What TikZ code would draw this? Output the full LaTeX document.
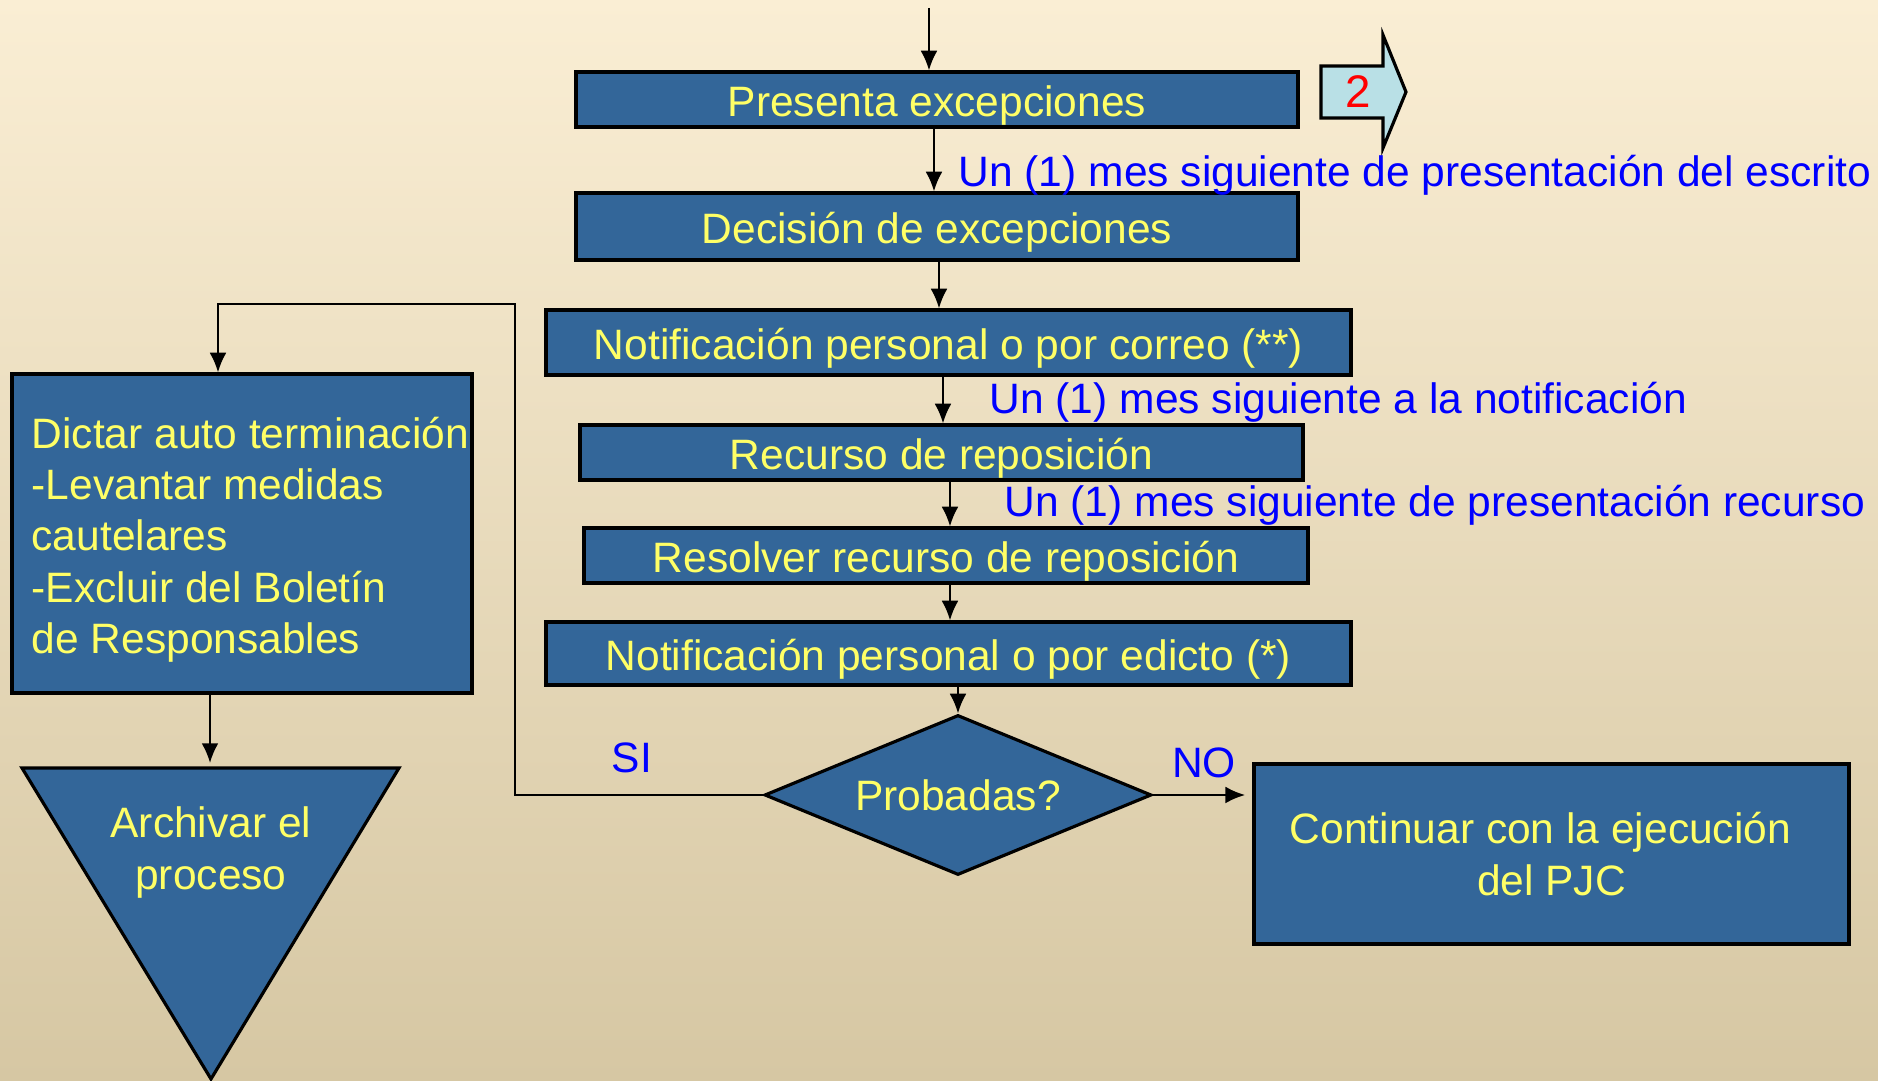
\documentclass[tikz,border=0pt]{standalone}
\usepackage{fontspec}
\setmainfont{Liberation Sans}
\usetikzlibrary{shapes.geometric,arrows.meta}

\definecolor{bgtop}{RGB}{250,238,212}
\definecolor{bgbot}{RGB}{214,199,163}
\definecolor{boxblue}{RGB}{51,102,153}
\definecolor{boxtext}{RGB}{255,255,102}
\definecolor{arrowcyan}{RGB}{185,224,230}

\begin{document}
\begin{tikzpicture}[>={Latex[length=5.6pt,width=4.8pt]},
		every node/.style={font=\fontsize{12.1pt}{14.6pt}\selectfont},
		box/.style={draw=black,line width=0.9pt,fill=boxblue,text=boxtext,inner sep=0pt},
		paso/.style={box,text height=10pt,text depth=0.1pt},
		tiempo/.style={text=blue,inner sep=0pt},
		flow/.style={->,line width=0.6pt}]
				% background
				\useasboundingbox (0,0) rectangle (18.78,-10.81);
				\shade[top color=bgtop,bottom color=bgbot] (0,0) rectangle (18.78,-10.81);

				% draw the main column of steps
				\node[paso,minimum width=7.22cm,minimum height=0.55cm] (pres) at (9.37,-0.995) {Presenta excepciones};
				\node[paso,minimum width=7.22cm,minimum height=0.67cm] (dec) at (9.37,-2.265) {Decisión de excepciones};
				\node[paso,minimum width=8.05cm,minimum height=0.65cm] (notc) at (9.485,-3.425) {Notificación personal o por correo (**)};
				\node[paso,minimum width=7.23cm,minimum height=0.55cm] (rec) at (9.415,-4.525) {Recurso de reposición};
				\node[paso,minimum width=7.24cm,minimum height=0.55cm] (resv) at (9.46,-5.555) {Resolver recurso de reposición};
				\node[paso,minimum width=8.05cm,minimum height=0.63cm] (note) at (9.485,-6.535) {Notificación personal o por edicto (*)};
				\node[box,diamond,aspect=2.42,minimum width=3.87cm,minimum height=1.60cm] (prob) at (9.58,-7.95) {Probadas?};
				\node[box,minimum width=5.95cm,minimum height=1.80cm,align=center] (cont) at (15.515,-8.54)
					{Continuar con la ejecución\hspace*{0.22cm}\\del PJC};

				% the box on the left
				\node[box,minimum width=4.60cm,minimum height=3.19cm] (dictar) at (2.42,-5.335) {};
				\node[text=boxtext,align=left,anchor=west,inner sep=0pt] (dictartxt) at (0.31,-5.395)
					{Dictar auto terminación\\-Levantar medidas\\cautelares\\-Excluir del Boletín\\de Responsables};

				% the triangle
				\filldraw[draw=black,line width=0.9pt,fill=boxblue] (0.22,-7.68) -- (3.99,-7.68) -- (2.11,-10.79) -- cycle;
				\coordinate (arch) at (2.10,-7.63);
				\node[text=boxtext,align=center] (archtxt) at (2.11,-8.525) {Archivar el\\proceso};

				% the arrow with the page number
				\filldraw[draw=black,line width=0.9pt,fill=arrowcyan] (13.21,-0.66) -- (13.83,-0.66) -- (13.83,-0.35)
					-- (14.06,-0.92) -- (13.83,-1.48) -- (13.83,-1.18) -- (13.21,-1.18) -- cycle;
				\node[text=red,font=\fontsize{13pt}{15pt}\selectfont] (dos) at (13.58,-0.92) {2};

				% arrows between the steps
				\coordinate (inicio) at (9.29,-0.08);
				\draw[flow] (inicio) -- (inicio |- pres.north);
				\foreach \a/\b/\x in {pres/dec/9.34, dec/notc/9.39, notc/rec/9.43, rec/resv/9.50, resv/note/9.50, note/prob/9.58}
					\draw[flow] (\x,0 |- \a.south) -- (\x,0 |- \b.north);

				% the two answers
				\coordinate (siarriba) at (5.15,-3.04);
				\coordinate (siizq) at (2.18,-3.04);
				\draw[flow] (prob.west) -| (siarriba) -- (siizq) -- (siizq |- dictar.north);
				\draw[flow] (prob.east) -- ++(0.92,0);
				\draw[flow] (dictar.south -| arch) -- (arch);

				% the time labels
				\node[tiempo,anchor=west] (t1) at (9.58,-1.755) {Un (1) mes siguiente de presentación del escrito};
				\node[tiempo,anchor=west] (t2) at (9.89,-4.025) {Un (1) mes siguiente a la notificación};
				\node[tiempo,anchor=west] (t3) at (10.04,-5.055) {Un (1) mes siguiente de presentación recurso};
				\node[tiempo] (si) at (6.32,-7.58) {SI};
				\node[tiempo] (no) at (12.04,-7.63) {NO};
\end{tikzpicture}
\end{document}
